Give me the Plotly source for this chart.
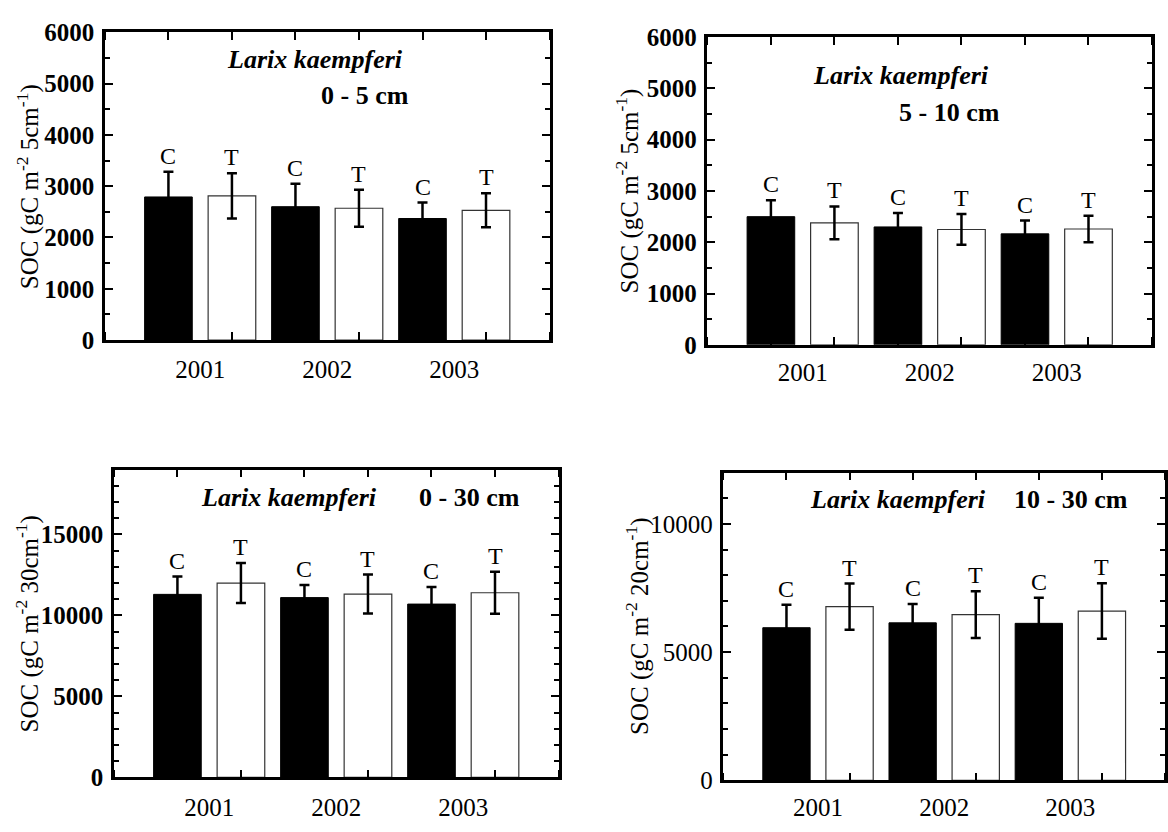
import plotly.graph_objects as go
import numpy as np

# ---------------- data ----------------
years = ["2001", "2002", "2003"]
groups = ["C", "T"]

p1_C = [2790, 2600, 2370]
p1_C_err = [490, 450, 310]
p1_T = [2810, 2570, 2530]
p1_T_err = [440, 360, 330]

p2_C = [2500, 2300, 2165]
p2_C_err = [320, 270, 260]
p2_T = [2380, 2250, 2260]
p2_T_err = [320, 300, 260]

p3_C = [11300, 11100, 10700]
p3_C_err = [1100, 780, 1060]
p3_T = [12000, 11320, 11400]
p3_T_err = [1230, 1200, 1300]

p4_C = [5950, 6140, 6120]
p4_C_err = [900, 730, 1000]
p4_T = [6770, 6460, 6600]
p4_T_err = [900, 910, 1080]

species = "Larix kaempferi"
depths = ["0 - 5 cm", "5 - 10 cm", "0 - 30 cm", "10 - 30 cm"]
ytitles = ["SOC (gC m<sup>-2</sup> 5cm<sup>-1</sup>)",
           "SOC (gC m<sup>-2</sup> 5cm<sup>-1</sup>)",
           "SOC (gC m<sup>-2</sup> 30cm<sup>-1</sup>)",
           "SOC (gC m<sup>-2</sup> 20cm<sup>-1</sup>)"]

# ---------------- layout helpers ----------------
W, H = 1168, 832
FONT = "Liberation Serif"

def px_dom_x(a, b):
    return [a / W, b / W]

def px_dom_y(top, bottom):
    return [1 - bottom / H, 1 - top / H]

panels = [
    dict(C=p1_C, Ce=p1_C_err, T=p1_T, Te=p1_T_err, xd=(105, 550), yd=(20, 338),
         yr=[0, 6000], dt=1000, mdt=500, bold=True, standoff=5,
         title_x=28, sp_xy=(315, 48), dp_xy=(365, 85)),
    dict(C=p2_C, Ce=p2_C_err, T=p2_T, Te=p2_T_err, xd=(708, 1153), yd=(25, 343),
         yr=[0, 6000], dt=1000, mdt=500, bold=True, standoff=3,
         title_x=628, sp_xy=(902, 65), dp_xy=(950, 103)),
    dict(C=p3_C, Ce=p3_C_err, T=p3_T, Te=p3_T_err, xd=(114, 559), yd=(472, 790),
         yr=[0, 19000], dt=5000, mdt=1000, bold=True, standoff=6,
         title_x=28, sp_xy=(289, 501), dp_xy=(470, 501)),
    dict(C=p4_C, Ce=p4_C_err, T=p4_T, Te=p4_T_err, xd=(724, 1166), yd=(475, 793),
         yr=[0, 12000], dt=5000, mdt=1000, bold=False, standoff=3,
         title_x=638, sp_xy=(899, 503), dp_xy=(1072, 503)),
]

fig = go.Figure()
annotations = []
idx = np.arange(len(years))
xC = 2 * idx + 1
xT = 2 * idx + 2

for k, p in enumerate(panels):
    sfx = "" if k == 0 else str(k + 1)
    xa, ya = "x" + sfx, "y" + sfx
    fig.add_trace(go.Bar(
        x=xC, y=p["C"], width=0.75, xaxis=xa, yaxis=ya,
        marker=dict(color="black", line=dict(color="black", width=1)),
        error_y=dict(type="data", array=p["Ce"], color="black", thickness=2.5, width=5),
        showlegend=False, hoverinfo="skip"))
    fig.add_trace(go.Bar(
        x=xT, y=p["T"], width=0.75, xaxis=xa, yaxis=ya,
        marker=dict(color="white", line=dict(color="#333333", width=1.2)),
        error_y=dict(type="data", array=p["Te"], color="black", thickness=2.5, width=5),
        showlegend=False, hoverinfo="skip"))

    axis_common = dict(showline=True, linewidth=2.5, linecolor="black", mirror="ticks",
                       showgrid=False, zeroline=False)
    fig.layout["xaxis" + sfx] = dict(
        **axis_common, domain=px_dom_x(*p["xd"]), anchor=ya, range=[0, 7],
        tickvals=[1.5, 3.5, 5.5], ticktext=years, ticks="",
        tickfont=dict(family=FONT, size=25, color="black"),
        ticklabelstandoff=p["standoff"],
        minor=dict(ticks="inside", tick0=1, dtick=1, ticklen=8, tickwidth=2, tickcolor="black"))
    fig.layout["yaxis" + sfx] = dict(
        **axis_common, domain=px_dom_y(*p["yd"]), anchor=xa, range=p["yr"],
        tick0=0, dtick=p["dt"], ticks="inside", ticklen=8, tickwidth=2, tickcolor="black",
        exponentformat="none", separatethousands=False, tickformat="d",
        tickfont=dict(family=FONT, size=25, color="black",
                      weight="bold" if p["bold"] else "normal"),
        ticklabelstandoff=3,
        minor=dict(ticks="inside", tick0=0, dtick=p["mdt"], ticklen=5, tickwidth=2,
                   tickcolor="black"))

    # C / T labels above error bars
    for g, xs, vals, errs in (("C", xC, p["C"], p["Ce"]), ("T", xT, p["T"], p["Te"])):
        for xi, v, e in zip(xs, vals, errs):
            annotations.append(dict(
                x=xi, y=v + e, xref=xa, yref=ya, text=g, showarrow=False,
                yanchor="bottom", yshift=1,
                font=dict(family=FONT, size=24, color="black")))

    # species & depth labels
    annotations.append(dict(
        x=p["sp_xy"][0] / W, y=1 - p["sp_xy"][1] / H, xref="paper", yref="paper",
        text="<b><i>" + species + "</i></b>", showarrow=False,
        xanchor="center", yanchor="middle",
        font=dict(family=FONT, size=26, color="black")))
    annotations.append(dict(
        x=p["dp_xy"][0] / W, y=1 - p["dp_xy"][1] / H, xref="paper", yref="paper",
        text="<b>" + depths[k] + "</b>", showarrow=False,
        xanchor="center", yanchor="middle",
        font=dict(family=FONT, size=26, color="black")))

    # y-axis title
    yc = (p["yd"][0] + p["yd"][1]) / 2
    annotations.append(dict(
        x=p["title_x"] / W, y=1 - yc / H, xref="paper", yref="paper",
        text=ytitles[k], showarrow=False, textangle=-90,
        xanchor="center", yanchor="middle",
        font=dict(family=FONT, size=25, color="black")))

fig.update_layout(
    width=W, height=H, margin=dict(l=0, r=0, t=0, b=0),
    paper_bgcolor="white", plot_bgcolor="white",
    barmode="overlay", annotations=annotations,
    font=dict(family=FONT, color="black"))

fig.write_html("out.html")
